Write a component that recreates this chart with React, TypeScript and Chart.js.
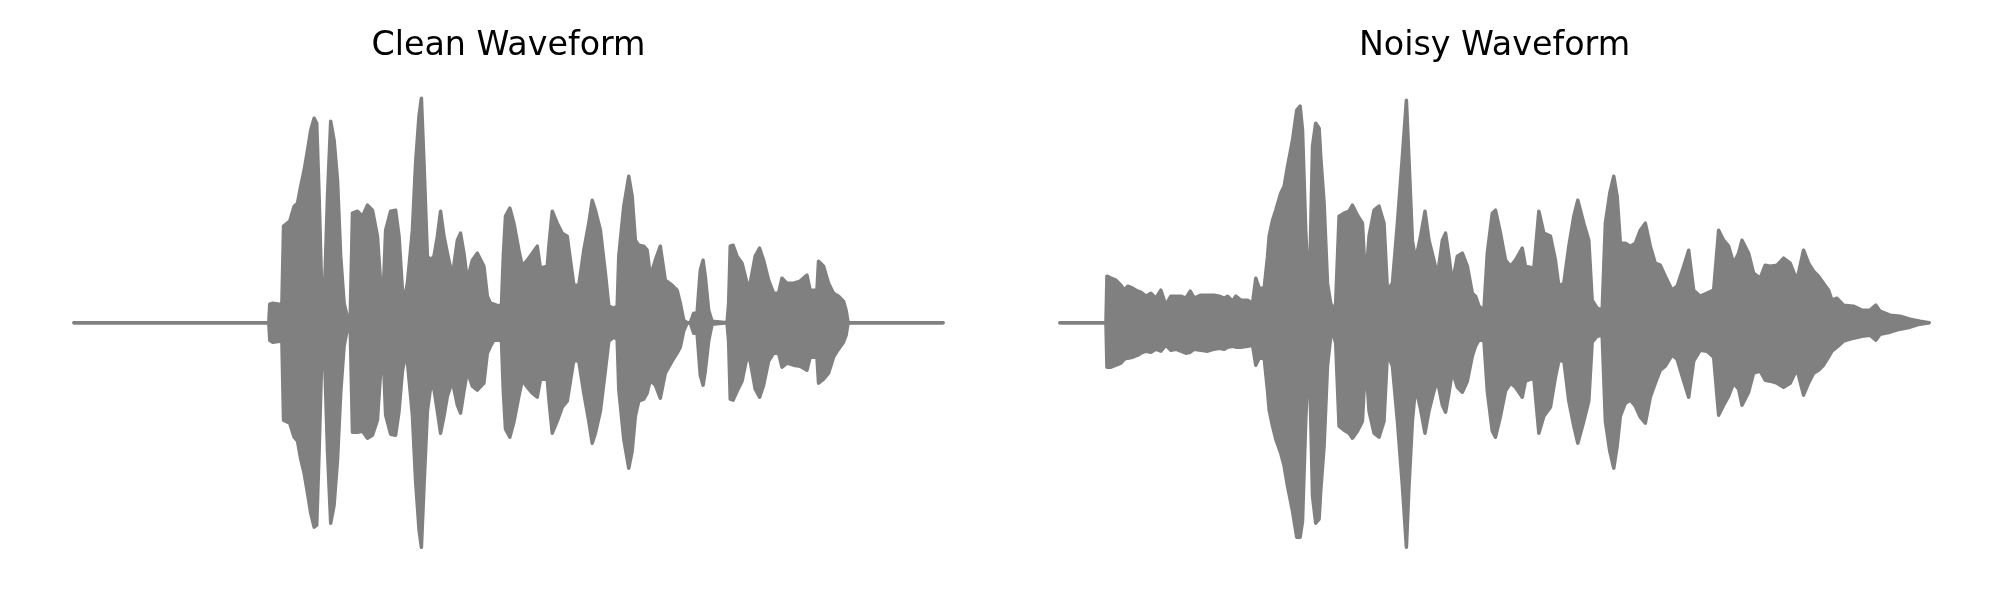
import React, { useEffect, useRef } from "react";
import { Chart, registerables } from "chart.js";

Chart.register(...registerables);

// ---- Clean waveform (envelope), time in seconds ----
const cleanTime = [
  0, 0.975, 0.98, 0.995, 1.03, 1.04, 1.049, 1.08, 1.102, 1.119, 1.135, 1.152, 1.169, 1.185, 1.202, 1.215,
  1.227, 1.239, 1.252, 1.269, 1.285, 1.302, 1.319, 1.335, 1.352, 1.372, 1.383, 1.394, 1.419, 1.444, 1.469,
  1.494, 1.519, 1.535, 1.549, 1.56, 1.585, 1.61, 1.627, 1.644, 1.66, 1.669, 1.694, 1.71, 1.727, 1.739,
  1.752, 1.769, 1.785, 1.802, 1.819, 1.835, 1.852, 1.869, 1.894, 1.919, 1.935, 1.952, 1.969, 1.994, 2.019,
  2.052, 2.069, 2.085, 2.102, 2.127, 2.14, 2.149, 2.16, 2.182, 2.202, 2.227, 2.244, 2.269, 2.294, 2.319,
  2.335, 2.369, 2.378, 2.394, 2.419, 2.444, 2.469, 2.485, 2.502, 2.527, 2.552, 2.577, 2.594, 2.61, 2.635,
  2.66, 2.677, 2.702, 2.719, 2.727, 2.752, 2.777, 2.794, 2.81, 2.827, 2.852, 2.869, 2.885, 2.91, 2.935,
  2.96, 2.994, 3.019, 3.035, 3.052, 3.069, 3.085, 3.102, 3.119, 3.135, 3.149, 3.16, 3.177, 3.194, 3.269,
  3.277, 3.285, 3.299, 3.319, 3.344, 3.369, 3.385, 3.41, 3.432, 3.452, 3.477, 3.502, 3.527, 3.544, 3.569,
  3.602, 3.635, 3.669, 3.685, 3.719, 3.727, 3.752, 3.777, 3.802, 3.827, 3.852, 3.865, 3.875, 4.35,
];
const cleanUpper = [
  0, 0, 0.074, 0.078, 0.074, 0.05, 0.386, 0.406, 0.466, 0.478, 0.546, 0.61, 0.69, 0.77, 0.818, 0.798,
  0.506, 0.158, 0.078, 0.506, 0.806, 0.73, 0.57, 0.266, 0.078, 0.01, 0.034, 0.438, 0.446, 0.426, 0.47,
  0.45, 0.346, 0.158, 0.146, 0.37, 0.446, 0.45, 0.346, 0.13, 0.118, 0.158, 0.37, 0.638, 0.826, 0.898,
  0.638, 0.266, 0.25, 0.266, 0.346, 0.446, 0.346, 0.278, 0.186, 0.33, 0.358, 0.278, 0.17, 0.25, 0.278,
  0.226, 0.106, 0.078, 0.074, 0.066, 0.074, 0.266, 0.426, 0.458, 0.398, 0.29, 0.226, 0.25, 0.278, 0.306,
  0.218, 0.226, 0.314, 0.446, 0.398, 0.358, 0.346, 0.25, 0.15, 0.15, 0.29, 0.398, 0.49, 0.45, 0.37,
  0.198, 0.066, 0.058, 0.066, 0.266, 0.466, 0.586, 0.506, 0.33, 0.31, 0.306, 0.29, 0.186, 0.25, 0.306,
  0.17, 0.15, 0.13, 0.078, 0.01, 0, 0, 0.038, 0.038, 0.21, 0.25, 0.186, 0.05, 0.006, 0,
  0.078, 0.306, 0.31, 0.266, 0.238, 0.158, 0.158, 0.266, 0.298, 0.25, 0.17, 0.118, 0.118, 0.178, 0.158,
  0.158, 0.166, 0.19, 0.13, 0.13, 0.246, 0.226, 0.158, 0.118, 0.106, 0.086, 0.05, 0, 0,
];
const cleanLower = [
  0, 0, -0.07, -0.078, -0.074, -0.05, -0.39, -0.402, -0.458, -0.474, -0.546, -0.602, -0.682, -0.762, -0.818, -0.81,
  -0.514, -0.174, -0.082, -0.514, -0.802, -0.73, -0.55, -0.282, -0.094, -0.01, -0.034, -0.438, -0.438, -0.434, -0.462,
  -0.45, -0.39, -0.194, -0.154, -0.37, -0.446, -0.45, -0.354, -0.194, -0.126, -0.158, -0.37, -0.634, -0.826, -0.898,
  -0.654, -0.354, -0.258, -0.266, -0.354, -0.442, -0.374, -0.294, -0.234, -0.33, -0.362, -0.274, -0.194, -0.254, -0.27,
  -0.242, -0.122, -0.094, -0.07, -0.07, -0.074, -0.274, -0.426, -0.458, -0.398, -0.294, -0.23, -0.258, -0.282, -0.298,
  -0.226, -0.226, -0.314, -0.442, -0.394, -0.338, -0.314, -0.234, -0.15, -0.154, -0.282, -0.394, -0.482, -0.442, -0.354,
  -0.19, -0.074, -0.058, -0.066, -0.266, -0.466, -0.582, -0.514, -0.374, -0.314, -0.306, -0.282, -0.23, -0.25, -0.302,
  -0.202, -0.154, -0.122, -0.098, -0.034, -0.002, 0, -0.042, -0.042, -0.21, -0.25, -0.194, -0.074, -0.006, 0,
  -0.078, -0.306, -0.31, -0.274, -0.234, -0.138, -0.154, -0.266, -0.298, -0.25, -0.154, -0.122, -0.122, -0.178, -0.162,
  -0.17, -0.174, -0.19, -0.138, -0.138, -0.242, -0.226, -0.202, -0.138, -0.106, -0.078, -0.05, 0, 0,
];

// ---- Noisy waveform ----
const noisyTime = [
  0, 0.23, 0.235, 0.255, 0.28, 0.305, 0.322, 0.339, 0.364, 0.389, 0.405, 0.43, 0.455, 0.48, 0.505, 0.53,
  0.555, 0.58, 0.605, 0.63, 0.652, 0.672, 0.705, 0.739, 0.772, 0.797, 0.822, 0.839, 0.864, 0.88, 0.905,
  0.939, 0.964, 0.98, 0.997, 1.022, 1.039, 1.047, 1.064, 1.08, 1.105, 1.122, 1.139, 1.164, 1.185, 1.202,
  1.214, 1.23, 1.247, 1.264, 1.28, 1.297, 1.305, 1.322, 1.339, 1.355, 1.369, 1.38, 1.397, 1.422, 1.447,
  1.464, 1.489, 1.514, 1.53, 1.547, 1.572, 1.597, 1.622, 1.639, 1.664, 1.689, 1.714, 1.734, 1.747, 1.764,
  1.78, 1.805, 1.827, 1.847, 1.872, 1.889, 1.914, 1.93, 1.947, 1.964, 1.989, 2.014, 2.039, 2.064, 2.08,
  2.097, 2.122, 2.139, 2.164, 2.18, 2.205, 2.23, 2.255, 2.28, 2.314, 2.33, 2.372, 2.397, 2.422, 2.455,
  2.48, 2.497, 2.522, 2.547, 2.572, 2.592, 2.622, 2.647, 2.664, 2.689, 2.714, 2.73, 2.752, 2.772, 2.789,
  2.805, 2.83, 2.855, 2.88, 2.905, 2.93, 2.955, 2.98, 3.005, 3.03, 3.064, 3.089, 3.122, 3.147, 3.172,
  3.205, 3.239, 3.272, 3.297, 3.322, 3.347, 3.372, 3.397, 3.414, 3.447, 3.472, 3.505, 3.53, 3.555, 3.589,
  3.622, 3.655, 3.689, 3.722, 3.747, 3.772, 3.797, 3.822, 3.847, 3.864, 3.889, 3.922, 3.972, 4.014, 4.055,
  4.084, 4.105, 4.155, 4.205, 4.255, 4.305, 4.35,
];
const noisyUpper = [
  0, 0, 0.186, 0.178, 0.17, 0.15, 0.13, 0.146, 0.138, 0.126, 0.122, 0.106, 0.118, 0.098, 0.13, 0.07,
  0.106, 0.106, 0.106, 0.098, 0.126, 0.098, 0.11, 0.11, 0.11, 0.106, 0.098, 0.106, 0.086, 0.106, 0.09,
  0.09, 0.078, 0.178, 0.138, 0.138, 0.266, 0.346, 0.41, 0.45, 0.518, 0.546, 0.626, 0.73, 0.85, 0.866,
  0.77, 0.37, 0.078, 0.706, 0.798, 0.778, 0.666, 0.478, 0.158, 0.078, 0.046, 0.078, 0.426, 0.438, 0.446,
  0.47, 0.43, 0.398, 0.158, 0.346, 0.45, 0.466, 0.398, 0.13, 0.158, 0.398, 0.666, 0.89, 0.65, 0.33,
  0.25, 0.346, 0.446, 0.33, 0.25, 0.186, 0.33, 0.358, 0.266, 0.158, 0.266, 0.278, 0.226, 0.118, 0.106,
  0.066, 0.05, 0.278, 0.438, 0.45, 0.358, 0.25, 0.226, 0.25, 0.298, 0.226, 0.218, 0.446, 0.358, 0.346,
  0.25, 0.146, 0.158, 0.306, 0.426, 0.49, 0.398, 0.33, 0.09, 0.058, 0.05, 0.398, 0.518, 0.586, 0.506,
  0.318, 0.318, 0.306, 0.318, 0.37, 0.398, 0.306, 0.238, 0.23, 0.186, 0.13, 0.146, 0.226, 0.29, 0.13,
  0.106, 0.118, 0.13, 0.37, 0.33, 0.306, 0.238, 0.278, 0.33, 0.278, 0.198, 0.178, 0.23, 0.226, 0.23,
  0.258, 0.238, 0.17, 0.29, 0.238, 0.206, 0.186, 0.158, 0.13, 0.09, 0.098, 0.07, 0.066, 0.05, 0.05,
  0.07, 0.046, 0.03, 0.026, 0.014, 0.006, 0,
];
const noisyLower = [
  0, 0, -0.178, -0.178, -0.17, -0.162, -0.146, -0.142, -0.138, -0.13, -0.122, -0.114, -0.118, -0.106, -0.114, -0.09,
  -0.11, -0.106, -0.114, -0.122, -0.118, -0.106, -0.11, -0.114, -0.106, -0.102, -0.106, -0.098, -0.094, -0.098, -0.098,
  -0.094, -0.09, -0.17, -0.142, -0.142, -0.274, -0.35, -0.414, -0.466, -0.522, -0.574, -0.654, -0.754, -0.858, -0.858,
  -0.794, -0.394, -0.094, -0.694, -0.802, -0.786, -0.674, -0.494, -0.174, -0.058, -0.05, -0.082, -0.414, -0.43, -0.442,
  -0.462, -0.434, -0.394, -0.15, -0.354, -0.442, -0.458, -0.394, -0.122, -0.174, -0.394, -0.654, -0.898, -0.654, -0.394,
  -0.258, -0.346, -0.442, -0.354, -0.274, -0.23, -0.33, -0.358, -0.282, -0.194, -0.258, -0.278, -0.234, -0.134, -0.094,
  -0.07, -0.07, -0.274, -0.434, -0.458, -0.374, -0.274, -0.242, -0.258, -0.298, -0.234, -0.222, -0.442, -0.374, -0.338,
  -0.218, -0.154, -0.15, -0.314, -0.414, -0.482, -0.394, -0.314, -0.078, -0.054, -0.05, -0.394, -0.514, -0.582, -0.494,
  -0.374, -0.322, -0.31, -0.334, -0.378, -0.402, -0.298, -0.242, -0.19, -0.174, -0.13, -0.146, -0.234, -0.298, -0.154,
  -0.11, -0.114, -0.138, -0.37, -0.33, -0.294, -0.242, -0.266, -0.33, -0.278, -0.202, -0.194, -0.23, -0.234, -0.242,
  -0.258, -0.242, -0.186, -0.29, -0.242, -0.202, -0.19, -0.17, -0.138, -0.114, -0.098, -0.074, -0.062, -0.054, -0.05,
  -0.07, -0.046, -0.038, -0.026, -0.018, -0.006, 0,
];

const titles = ["Clean Waveform", "Noisy Waveform"];

const GRAY = "#808080";

function toPoints(t: number[], v: number[]) {
  return t.map((x, i) => ({ x, y: v[i] }));
}

function Wave({
  title,
  time,
  upper,
  lower,
  left,
  padLeft,
  padRight,
}: {
  title: string;
  time: number[];
  upper: number[];
  lower: number[];
  left: number;
  padLeft: number;
  padRight: number;
}) {
  const ref = useRef<HTMLCanvasElement | null>(null);
  useEffect(() => {
    if (!ref.current) return;
    const lineStyle = {
      borderColor: GRAY,
      backgroundColor: GRAY,
      borderWidth: 3.5,
      pointRadius: 0,
      tension: 0,
      borderJoinStyle: "round" as const,
      borderCapStyle: "round" as const,
      clip: false as const,
    };
    const chart = new Chart(ref.current, {
      type: "line",
      data: {
        datasets: [
          { ...lineStyle, data: toPoints(time, upper), fill: "+1" },
          { ...lineStyle, data: toPoints(time, lower), fill: false },
        ],
      },
      options: {
        animation: false,
        responsive: false,
        maintainAspectRatio: false,
        layout: { padding: { left: padLeft, right: padRight, top: 0, bottom: 20.6 } },
        scales: {
          x: { type: "linear", min: 0, max: 4.35, display: false },
          y: { type: "linear", min: -1.027, max: 1.027, display: false },
        },
        plugins: {
          legend: { display: false },
          tooltip: { enabled: false },
          title: {
            display: true,
            text: title,
            color: "#000000",
            font: { family: "DejaVu Sans", size: 33.3, weight: "normal", lineHeight: 1.2 },
            padding: { top: 26, bottom: 0 },
          },
        },
      },
    });
    return () => chart.destroy();
  }, [title, time, upper, lower, padLeft, padRight]);
  return (
    <canvas
      ref={ref}
      width={1000}
      height={600}
      style={{ position: "absolute", left, top: 0, width: 1000, height: 600 }}
    />
  );
}

export default function App() {
  return (
    <div
      style={{
        position: "absolute",
        left: 0,
        top: 0,
        width: 2000,
        height: 600,
        background: "#ffffff",
        overflow: "hidden",
      }}
    >
      <Wave title={titles[0]} time={cleanTime} upper={cleanUpper} lower={cleanLower} left={0} padLeft={74} padRight={57} />
      <Wave title={titles[1]} time={noisyTime} upper={noisyUpper} lower={noisyLower} left={1000} padLeft={60} padRight={71} />
    </div>
  );
}
